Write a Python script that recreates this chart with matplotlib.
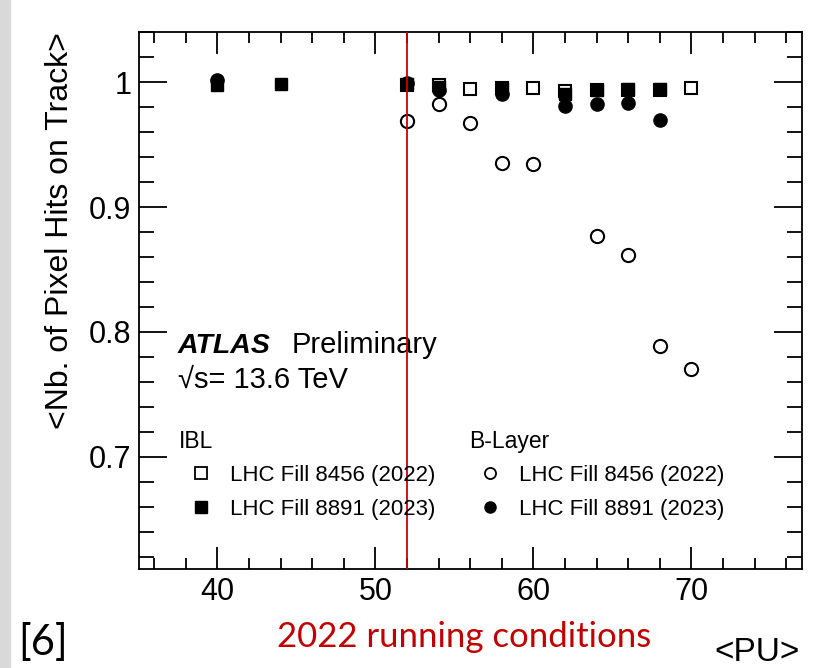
import numpy as np
import matplotlib
matplotlib.use("Agg")
from matplotlib import pyplot as plt
from matplotlib.ticker import MultipleLocator
from matplotlib.patches import Rectangle

plt.rcParams['font.family'] = ['Liberation Sans', 'DejaVu Sans']

# IBL, LHC fill 8456 (2022), open squares
ibl22_pu = [52, 54, 56, 58, 60, 62, 64, 66, 68, 70]
ibl22_hits = [0.9976, 0.9975, 0.9946, 0.9950, 0.9957, 0.9930, 0.9940, 0.9940, 0.9940, 0.9955]
# IBL, LHC fill 8891 (2023), filled squares
ibl23_pu = [40, 44, 52, 54, 58, 62, 64, 66, 68]
ibl23_hits = [0.9976, 0.9990, 0.9985, 0.9962, 0.9957, 0.9909, 0.9941, 0.9944, 0.9944]
# B-Layer, LHC fill 8456 (2022), open circles
bl22_pu = [52, 54, 56, 58, 60, 64, 66, 68, 70]
bl22_hits = [0.9688, 0.9823, 0.9675, 0.9352, 0.9347, 0.8766, 0.8613, 0.7885, 0.7704]
# B-Layer, LHC fill 8891 (2023), filled circles
bl23_pu = [40, 52, 54, 58, 62, 64, 66, 68]
bl23_hits = [1.0016, 0.9994, 0.9935, 0.9903, 0.9806, 0.9823, 0.9833, 0.9699]

pu_2022 = 52
fill_labels = ['LHC Fill 8456 (2022)', 'LHC Fill 8891 (2023)']

fig = plt.figure(figsize=(8.22, 6.68), dpi=100)
fig.patches.append(Rectangle((0, 0), 10 / 822, 1, transform=fig.transFigure,
                             color='#d9d9d9', zorder=0))
ax = fig.add_axes([0.1685, 0.1482, 0.8072, 0.8034])

ms = 9
ax.plot(ibl22_pu, ibl22_hits, 's', ms=ms, mfc='white', mec='black', mew=1.5, zorder=3)
ax.plot(bl22_pu, bl22_hits, 'o', ms=ms + 0.5, mfc='white', mec='black', mew=1.5, zorder=3)
ax.plot(ibl23_pu, ibl23_hits, 's', ms=ms, color='black', zorder=4)
ax.plot(bl23_pu, bl23_hits, 'o', ms=ms + 0.5, color='black', zorder=4)
ax.axvline(pu_2022, color='#cc0000', lw=1.3, zorder=5)

ax.set_xlim(35, 77)
ax.set_ylim(0.61, 1.04)
ax.xaxis.set_major_locator(MultipleLocator(10))
ax.xaxis.set_minor_locator(MultipleLocator(2))
ax.yaxis.set_minor_locator(MultipleLocator(0.02))
ax.set_yticks([0.7, 0.8, 0.9, 1.0])
ax.set_yticklabels(['0.7', '0.8', '0.9', '1'])
ax.tick_params(which='both', direction='in', top=True, right=True, width=1.3,
               labelsize=22)
ax.tick_params(axis='x', which='major', length=16, pad=6)
ax.tick_params(axis='x', which='minor', length=8)
ax.tick_params(axis='y', which='major', length=20, pad=5)
ax.tick_params(axis='y', which='minor', length=11)
for s in ax.spines.values():
    s.set_linewidth(1.3)

ax.set_ylabel('<Nb. of Pixel Hits on Track>', fontsize=23, loc='top', labelpad=10)

ax.text(0.0595, 0.4025, 'ATLAS', transform=ax.transAxes, fontsize=20.5,
        fontweight='bold', fontstyle='italic')
ax.text(0.2313, 0.4025, 'Preliminary', transform=ax.transAxes, fontsize=21)
ax.text(0.0595, 0.337, '√s= 13.6 TeV', transform=ax.transAxes, fontsize=21)

# legend column titles
ax.text(0.061, 0.2255, 'IBL', transform=ax.transAxes, fontsize=16.5)
ax.text(0.498, 0.2255, 'B-Layer', transform=ax.transAxes, fontsize=16.5)

# legends built from proxy handles
h_ibl22, = ax.plot([], [], 's', ms=8, mfc='white', mec='black', mew=1.3)
h_ibl23, = ax.plot([], [], 's', ms=8, color='black')
h_bl22, = ax.plot([], [], 'o', ms=8, mfc='white', mec='black', mew=1.3)
h_bl23, = ax.plot([], [], 'o', ms=8, color='black')
leg1 = ax.legend([h_ibl22, h_ibl23], fill_labels,
                 loc='upper left', bbox_to_anchor=(0.0776, 0.194),
                 frameon=False, fontsize=16, borderpad=0, borderaxespad=0,
                 handlelength=1.0, handletextpad=0.8, labelspacing=0.6)
ax.add_artist(leg1)
ax.legend([h_bl22, h_bl23], fill_labels,
          loc='upper left', bbox_to_anchor=(0.513, 0.194),
          frameon=False, fontsize=16, borderpad=0, borderaxespad=0,
          handlelength=1.0, handletextpad=0.8, labelspacing=0.6)

fig.text(0.973, 0.011, '<PU>', ha='right', fontsize=24)
fig.text(0.022, 0.02, '[6]', fontsize=30, family='Lato')
fig.text(0.5645, 0.031, '2022 running conditions', ha='center', fontsize=25,
         family='Lato', color='#c00000')

fig.savefig('out.png', dpi=100)
